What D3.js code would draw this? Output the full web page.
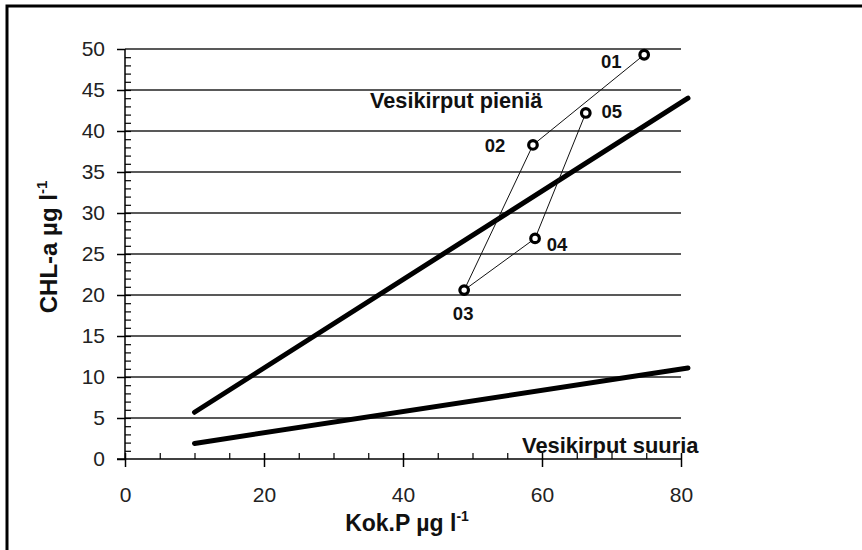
<!DOCTYPE html>
<html>
<head>
<meta charset="utf-8">
<script src="https://cdn.jsdelivr.net/npm/d3@7"></script>
<style>
  html, body { margin: 0; padding: 0; background: #fff; overflow: hidden; }
  svg { display: block; font-family: "Liberation Sans", Arial, sans-serif; }
</style>
</head>
<body>
<svg id="chart" width="862" height="550"></svg>
<script>
// ---- data ----
const pointLabels = ["01", "02", "03", "04", "05"];
const pointP      = [74.7, 58.7, 48.8, 59.0, 66.3];
const pointChl    = [49.3, 38.3, 20.6, 26.9, 42.2];

const lineSmallP   = [10, 81];
const lineSmallChl = [5.7, 44.0];
const lineLargeP   = [10, 81];
const lineLargeChl = [1.9, 11.1];

const xTickLabels = [0, 20, 40, 60, 80];
const yTickLabels = [0, 5, 10, 15, 20, 25, 30, 35, 40, 45, 50];

const annotSmall = "Vesikirput pieniä";
const annotLarge = "Vesikirput suuria";

// ---- layout ----
const svg = d3.select("#chart");
const x = d3.scaleLinear().domain([0, 80]).range([125, 681]);
const y = d3.scaleLinear().domain([0, 50]).range([459, 49]);

// frame (top and left edges only visible)
svg.append("path")
  .attr("d", "M7,552V6H864")
  .attr("fill", "none").attr("stroke", "#000").attr("stroke-width", 3);

// gridlines
svg.append("g").selectAll("line")
  .data(yTickLabels.filter(d => d > 0))
  .join("line")
  .attr("x1", x(0)).attr("x2", x(80))
  .attr("y1", d => y(d)).attr("y2", d => y(d))
  .attr("stroke", "#222").attr("stroke-width", 1.5);

// y axis
const yAxisMajor = d3.axisLeft(y).tickValues(yTickLabels).tickSize(8).tickFormat(d3.format("d")).tickPadding(12);
const gy = svg.append("g").attr("transform", `translate(${x(0)},0)`).call(yAxisMajor);
gy.select(".domain").attr("stroke", "#000").attr("stroke-width", 1.5).attr("d", `M0,${y(0)}V${y(50)}`);
gy.selectAll(".tick line").attr("stroke", "#000").attr("stroke-width", 1.5);
gy.selectAll(".tick text").attr("font-size", 21).attr("fill", "#222")
  .attr("font-family", "'Liberation Sans', Arial, sans-serif");

const yMinor = d3.axisRight(y).tickValues(d3.range(1, 50)).tickSize(6).tickFormat("");
const gym = svg.append("g").attr("transform", `translate(${x(0)},0)`).call(yMinor);
gym.select(".domain").remove();
gym.selectAll(".tick line").attr("stroke", "#000").attr("stroke-width", 1.2);

// x axis
const xAxisMajor = d3.axisBottom(x).tickValues(xTickLabels).tickSize(8).tickPadding(20).tickFormat(d3.format("d"));
const gx = svg.append("g").attr("transform", `translate(0,${y(0)})`).call(xAxisMajor);
gx.select(".domain").attr("stroke", "#000").attr("stroke-width", 1.5).attr("d", `M${x(0) - 8},0H${x(80)}`);
gx.selectAll(".tick line").attr("stroke", "#000").attr("stroke-width", 1.5).attr("y1", -6);
gx.selectAll(".tick text").attr("font-size", 21).attr("fill", "#222")
  .attr("font-family", "'Liberation Sans', Arial, sans-serif");

const xMinor = d3.axisTop(x).tickValues(d3.range(5, 80, 5).filter(d => d % 20 !== 0)).tickSize(6).tickFormat("");
const gxm = svg.append("g").attr("transform", `translate(0,${y(0)})`).call(xMinor);
gxm.select(".domain").remove();
gxm.selectAll(".tick line").attr("stroke", "#000").attr("stroke-width", 1.2);

// regression lines
const lineGen = d3.line().x(d => x(d[0])).y(d => y(d[1]));
svg.append("path")
  .attr("d", lineGen(d3.zip(lineSmallP, lineSmallChl)))
  .attr("fill", "none").attr("stroke", "#000").attr("stroke-width", 5).attr("stroke-linecap", "round");
svg.append("path")
  .attr("d", lineGen(d3.zip(lineLargeP, lineLargeChl)))
  .attr("fill", "none").attr("stroke", "#000").attr("stroke-width", 5).attr("stroke-linecap", "round");

// thin path connecting points
const pts = pointLabels.map((l, i) => ({ label: l, p: pointP[i], c: pointChl[i] }));
svg.append("path")
  .attr("d", d3.line().x(d => x(d.p)).y(d => y(d.c))(pts))
  .attr("fill", "none").attr("stroke", "#111").attr("stroke-width", 1);

svg.append("g").selectAll("circle")
  .data(pts).join("circle")
  .attr("cx", d => x(d.p)).attr("cy", d => y(d.c)).attr("r", 4.3)
  .attr("fill", "#fff").attr("stroke", "#000").attr("stroke-width", 3.2);

// point labels
const labelOffsets = { "01": [-33, 13], "02": [-38, 7], "03": [-1, 30], "04": [22, 13], "05": [26, 5] };
svg.append("g").selectAll("text")
  .data(pts).join("text")
  .attr("x", d => x(d.p) + labelOffsets[d.label][0])
  .attr("y", d => y(d.c) + labelOffsets[d.label][1])
  .attr("text-anchor", "middle")
  .attr("font-size", 18.5).attr("font-weight", "bold").attr("fill", "#111")
  .text(d => d.label);

// annotations
svg.append("text").attr("x", 370).attr("y", 108)
  .attr("font-size", 21.7).attr("font-weight", "bold").attr("fill", "#111")
  .text(annotSmall);
svg.append("text").attr("x", 522).attr("y", 453)
  .attr("font-size", 21.9).attr("font-weight", "bold").attr("fill", "#111")
  .text(annotLarge);

// axis titles
const xt = svg.append("text").attr("x", 407).attr("y", 531)
  .attr("text-anchor", "middle").attr("font-size", 23).attr("font-weight", "bold").attr("fill", "#111");
xt.append("tspan").text("Kok.P µg l");
xt.append("tspan").attr("font-size", 14).attr("dy", -10).text("-1");

const yt = svg.append("text").attr("transform", `translate(57,247) rotate(-90)`)
  .attr("text-anchor", "middle").attr("font-size", 24).attr("font-weight", "bold").attr("fill", "#111");
yt.append("tspan").text("CHL-a µg l");
yt.append("tspan").attr("font-size", 15).attr("dy", -10).text("-1");
</script>
</body>
</html>
